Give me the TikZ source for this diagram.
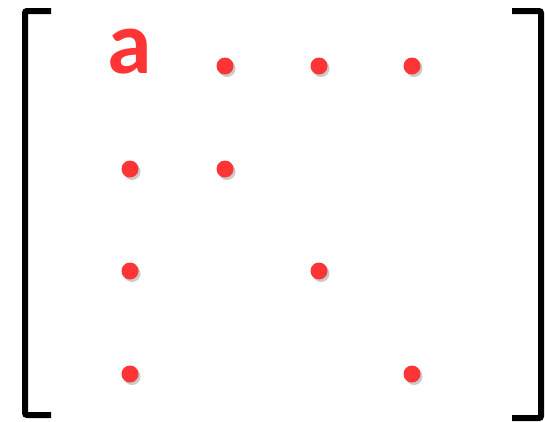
\documentclass[tikz,border=0pt]{standalone}
\usepackage{fontspec}
\newfontfamily\letterfont{Carlito}
\usetikzlibrary{shadows}
\definecolor{mx-red}{HTML}{FF3535}
\definecolor{mx-black}{HTML}{000000}

\begin{document}
\begin{tikzpicture}[x=1pt, y=-1pt,
    dot/.style={circle, fill=mx-red, minimum size=17pt, inner sep=0pt,
      drop shadow={shadow xshift=2pt, shadow yshift=-2.5pt, opacity=0.35, fill=black!60}},
    bracket/.style={draw=mx-black, line width=6pt, rounded corners=2pt}]
    \useasboundingbox (0,0) rectangle (545,421);

    % Brackets
    \draw[bracket] (51,11) -- (25,11) -- (25,415) -- (51,415);
    \draw[bracket] (512,11) -- (541,11) -- (541,418) -- (512,418);

    % First entry
    \node[font=\letterfont\bfseries\fontsize{90}{90}\selectfont, text=mx-red, anchor=base] (a) at (130,73) {a};

    % Row 1
    \node[dot] (d12) at (225,66) {};
    \node[dot] (d13) at (319,66) {};
    \node[dot] (d14) at (412,66) {};

    % Row 2
    \node[dot] (d21) at (130,169) {};
    \node[dot] (d22) at (225,169) {};

    % Row 3
    \node[dot] (d31) at (130,271) {};
    \node[dot] (d33) at (319,271) {};

    % Row 4
    \node[dot] (d41) at (130,374) {};
    \node[dot] (d44) at (412,374) {};
\end{tikzpicture}
\end{document}
